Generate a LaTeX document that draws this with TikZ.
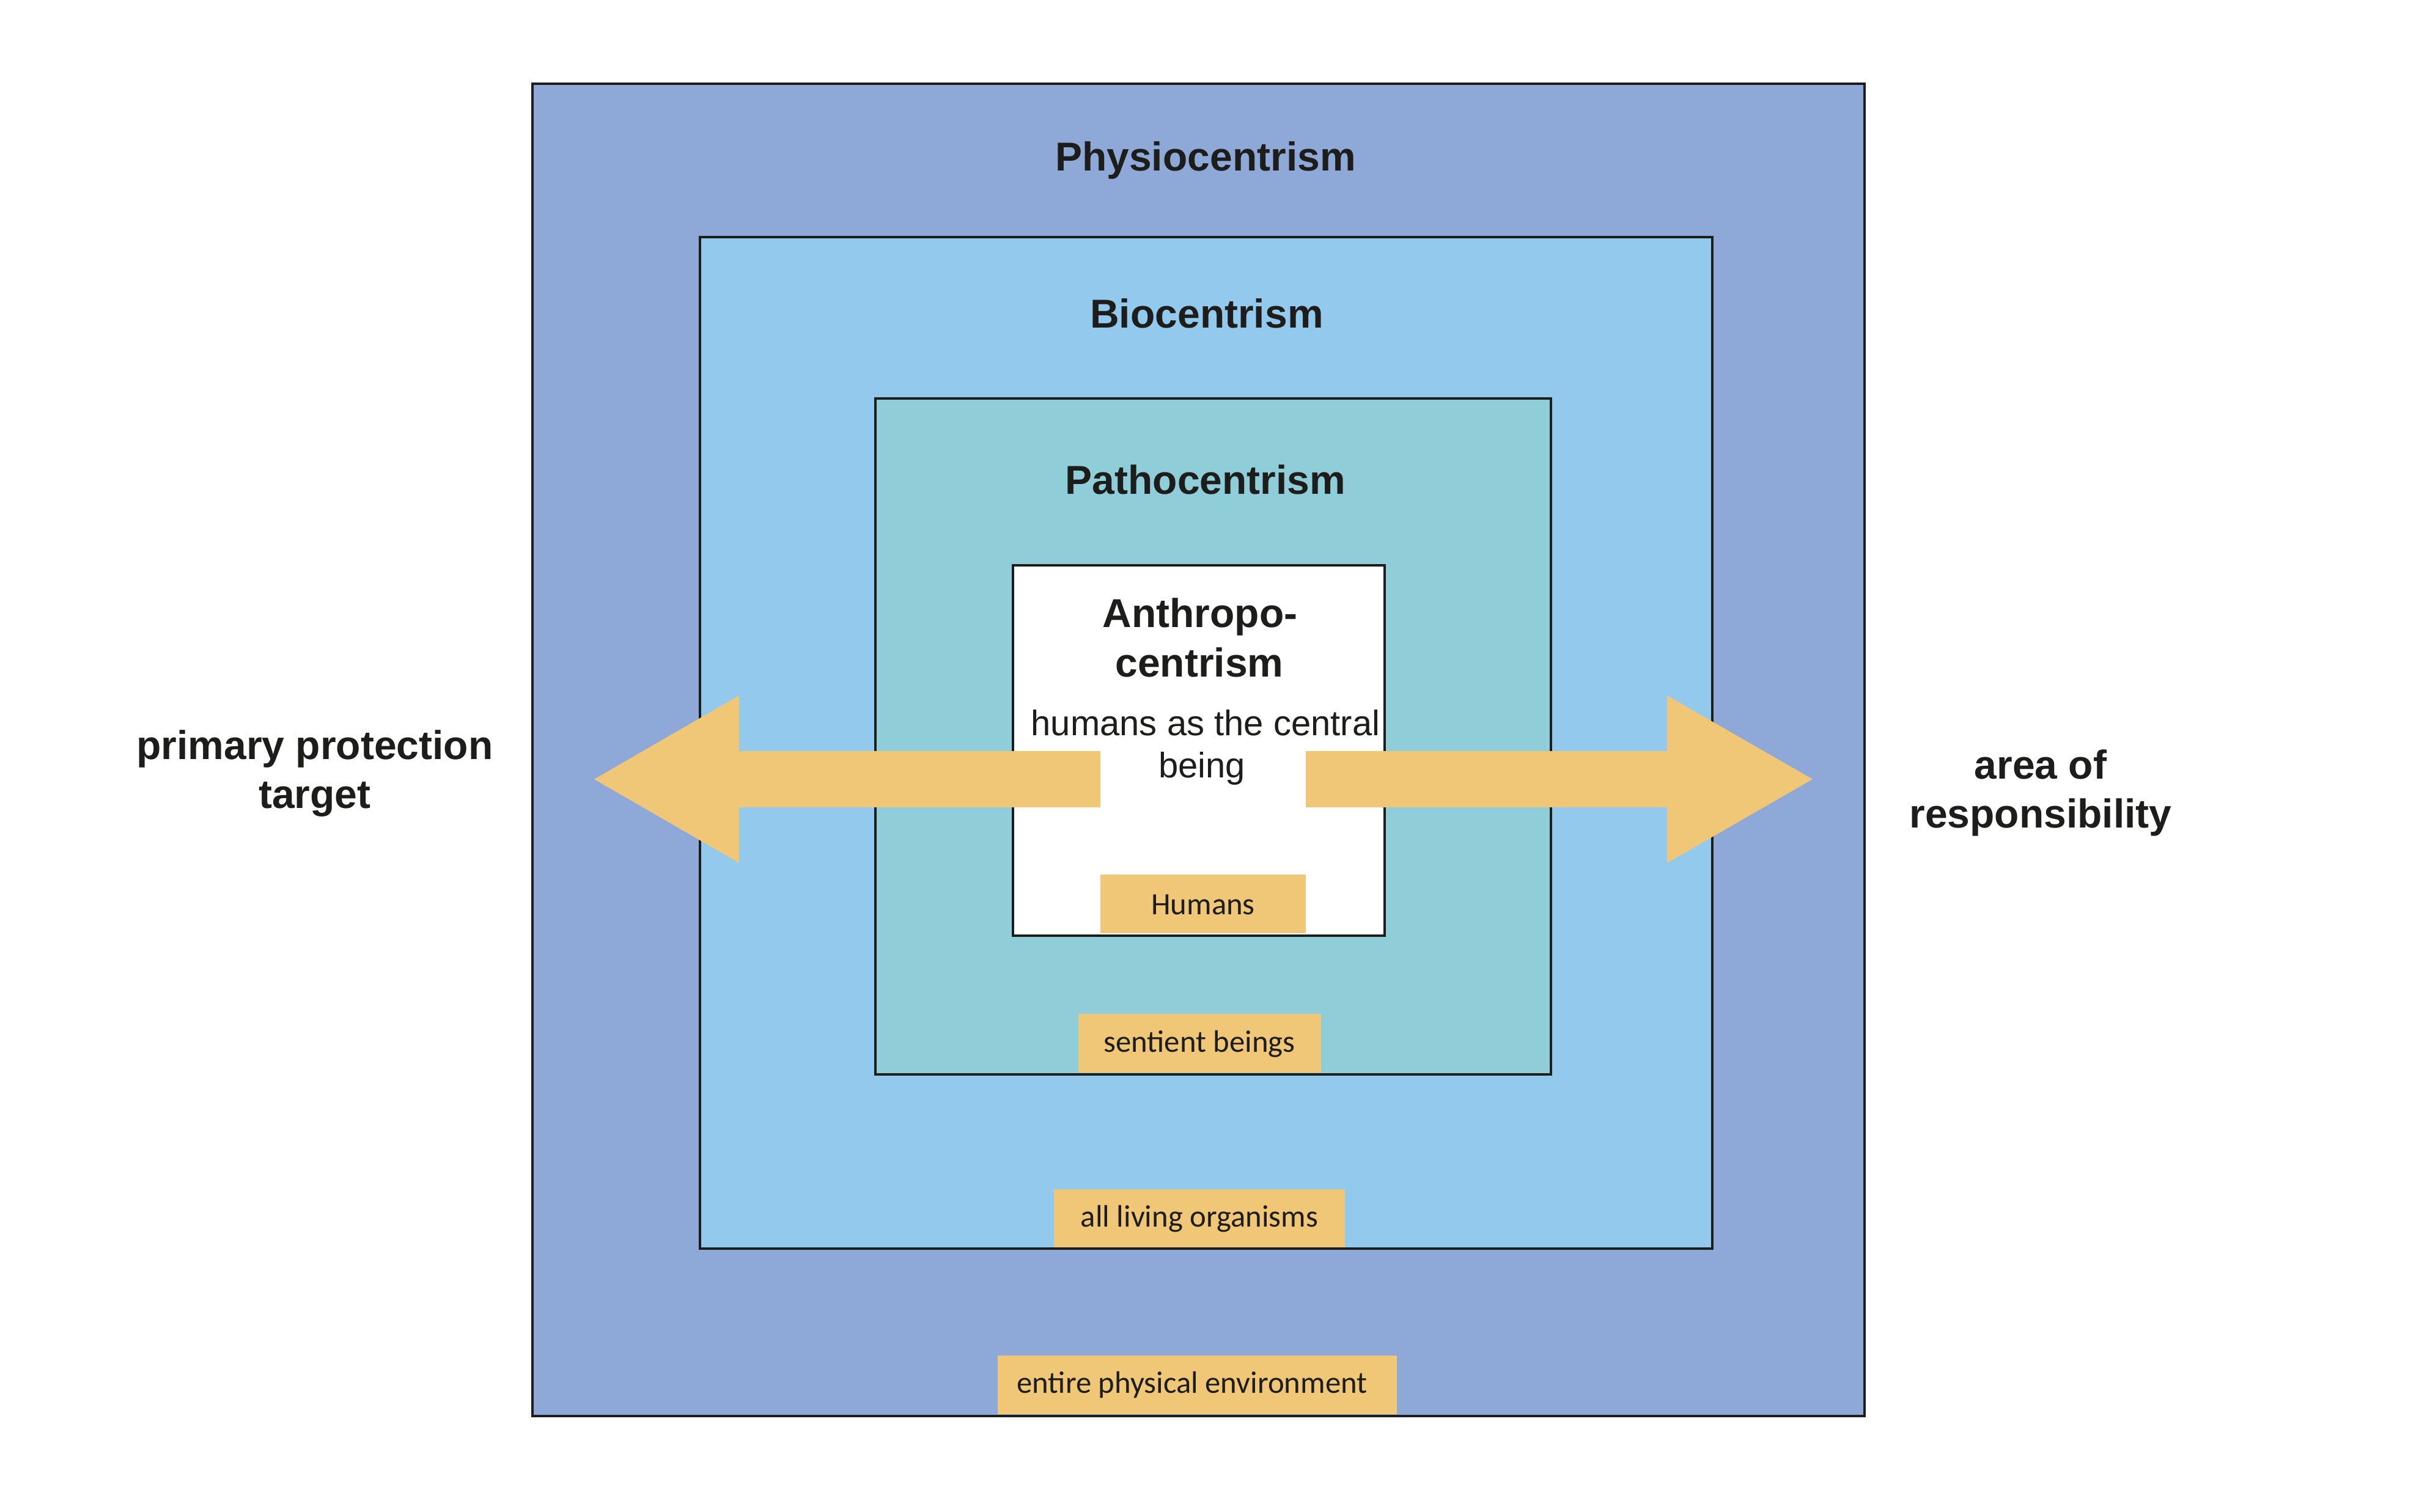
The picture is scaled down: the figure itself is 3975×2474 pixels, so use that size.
\documentclass[tikz,border=0pt]{standalone}
\usepackage{fontspec}
\setmainfont{Liberation Sans}
\newfontfamily\labelfont{Carlito}
\definecolor{physio}{HTML}{8EA9D7}
\definecolor{bio}{HTML}{93C9EC}
\definecolor{patho}{HTML}{8FCED9}
\definecolor{tag}{HTML}{F0C677}
\definecolor{ink}{HTML}{1D1D1B}
\tikzset{
  ring/.style={draw=ink, line width=0.8pt},
  tagbox/.style={fill=tag, draw=none},
  heading/.style={anchor=base, inner sep=0pt, text=ink, font=\fontsize{13.2}{16}\selectfont\bfseries},
  plain/.style={anchor=base, inner sep=0pt, text=ink, font=\fontsize{11.6}{14}\selectfont},
  taglabel/.style={anchor=center, inner sep=0pt, text=ink, font=\labelfont\fontsize{10.15}{12}\selectfont},
  bigarrow/.style={fill=tag, draw=none}
}
\begin{document}
\begin{tikzpicture}[x=0.2pt, y=-0.2pt]
\useasboundingbox (0,0) rectangle (3975,2474);
% nested boxes
\draw[ring, fill=physio] (871,137) rectangle (3050,2317);
\draw[ring, fill=bio] (1145,388) rectangle (2801,2043);
\draw[ring, fill=patho] (1432,652) rectangle (2537,1758);
\draw[ring, fill=white] (1657,925) rectangle (2265,1531);
% tag boxes
\fill[tagbox] (1800,1431) rectangle (2136,1527);
\fill[tagbox] (1764,1659) rectangle (2161,1755);
\fill[tagbox] (1724,1946) rectangle (2200,2041);
\fill[tagbox] (1632,2218) rectangle (2285,2314);
\node[taglabel] (hum) at (1968,1480) {Humans};
\node[taglabel] (sent) at (1962,1708) {sentient beings};
\node[taglabel] (liv) at (1962,1994) {all living organisms};
\node[taglabel] (env) at (1950,2266) {entire physical environment};
% arrows
\fill[bigarrow] (1800,1229) -- (1209,1229) -- (1209,1138) -- (972,1275) -- (1209,1412) -- (1209,1321) -- (1800,1321) -- cycle;
\fill[bigarrow] (2136,1229) -- (2727,1229) -- (2727,1138) -- (2965,1275) -- (2727,1412) -- (2727,1321) -- (2136,1321) -- cycle;
% headings
\node[heading] (phys) at (1972,280) {Physiocentrism};
\node[heading] (bioc) at (1974,537) {Biocentrism};
\node[heading] (path) at (1972,809) {Pathocentrism};
\node[heading] (anth1) at (1963,1027) {Anthropo-};
\node[heading] (anth2) at (1962,1108) {centrism};
\node[plain] (desc1) at (1972,1204) {humans as the central};
\node[plain] (desc2) at (1966,1273) {being};
% side labels
\node[heading] (pp1) at (515,1243) {primary protection};
\node[heading] (pp2) at (515,1323) {target};
\node[heading] (ar1) at (3338,1275) {area of};
\node[heading] (ar2) at (3338,1355) {responsibility};
\end{tikzpicture}
\end{document}
